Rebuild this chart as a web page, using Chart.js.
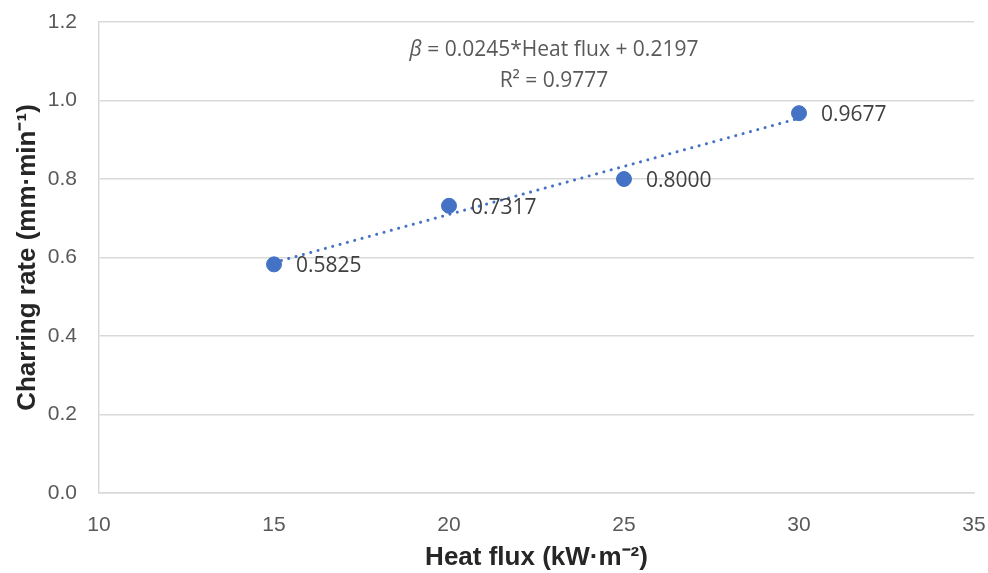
<!DOCTYPE html>
<html>
<head>
<meta charset="utf-8">
<script src="https://cdn.jsdelivr.net/npm/chart.js@4"></script>
<style>
  html, body { margin: 0; padding: 0; background: #fff; }
  #wrap { width: 988px; height: 573px; }
</style>
</head>
<body>
<div id="wrap"><canvas id="chart"></canvas></div>
<script>
// measured charring rates
const heatFlux = [15, 20, 25, 30];
const charRate = [0.5825, 0.7317, 0.8000, 0.9677];

// linear fit reported on the chart
const slope = 0.0245;
const intercept = 0.2197;
const rSquared = 0.9777;

const xTicks = [10, 15, 20, 25, 30, 35];
const yTicks = [0, 0.2, 0.4, 0.6, 0.8, 1.0, 1.2];

const blue = '#4472C4';
const grey = '#595959';
const grid = '#d9d9d9';

let points = heatFlux.map((x, i) => ({ x: x, y: charRate[i] }));
let fitX = [heatFlux[0], heatFlux[heatFlux.length - 1]];
let fit = fitX.map(x => ({ x: x, y: slope * x + intercept }));

// value labels to the right of each point + the fit equation
const annotate = {
  id: 'annotate',
  afterDatasetsDraw(chart) {
    const ctx = chart.ctx;
    const meta = chart.getDatasetMeta(1);
    ctx.save();
    ctx.font = '21px "Open Sans"';
    ctx.fillStyle = '#404040';
    ctx.textAlign = 'left';
    ctx.textBaseline = 'middle';
    meta.data.forEach((pt, i) => {
      ctx.fillText(charRate[i].toFixed(4), pt.x + 22, pt.y + 2);
    });

    // equation over the plot
    const cx = 554;
    ctx.fillStyle = grey;
    const rest = ' = ' + slope + '*Heat flux + ' + intercept;
    ctx.font = 'italic 21px "Open Sans"';
    const wb = ctx.measureText('β').width;
    ctx.font = '21px "Open Sans"';
    const wr = ctx.measureText(rest).width;
    let sx = cx - (wb + wr) / 2;
    ctx.font = 'italic 21px "Open Sans"';
    ctx.fillText('β', sx, 50);
    ctx.font = '21px "Open Sans"';
    ctx.fillText(rest, sx + wb, 50);
    ctx.textAlign = 'center';
    ctx.fillText('R² = ' + rSquared, cx, 81);
    ctx.restore();
  }
};

new Chart(document.getElementById('chart'), {
  type: 'scatter',
  data: {
    datasets: [
      {
        label: 'fit',
        data: fit,
        showLine: true,
        borderColor: blue,
        borderWidth: 3,
        borderDash: [0.1, 7.5],
        borderCapStyle: 'round',
        pointRadius: 0,
        fill: false
      },
      {
        label: 'Charring rate',
        data: points,
        backgroundColor: blue,
        borderColor: blue,
        pointRadius: 7.5,
        pointHoverRadius: 7.5
      }
    ]
  },
  options: {
    responsive: true,
    maintainAspectRatio: false,
    animation: false,
    layout: { padding: { top: 22, right: 14, left: 8, bottom: 0 } },
    plugins: {
      legend: { display: false },
      tooltip: { enabled: false }
    },
    scales: {
      x: {
        type: 'linear',
        min: xTicks[0],
        max: xTicks[xTicks.length - 1],
        afterBuildTicks: s => { s.ticks = xTicks.map(v => ({ value: v })); },
        afterFit: s => { s.height = 80; s.paddingLeft = 0; s.paddingRight = 0; },
        grid: { display: false, drawTicks: false },
        border: { color: grid, width: 1.5 },
        ticks: {
          color: grey,
          padding: 20,
          font: { family: '"Liberation Sans"', size: 21 }
        },
        title: {
          display: true,
          text: 'Heat flux (kW·m⁻²)',
          color: '#262626',
          padding: { top: 0, bottom: 0 },
          font: { family: '"Liberation Sans"', size: 26, weight: 'bold' }
        }
      },
      y: {
        min: yTicks[0],
        max: yTicks[yTicks.length - 1],
        afterBuildTicks: s => { s.ticks = yTicks.map(v => ({ value: v })); },
        afterFit: s => { s.width = 91; s.paddingTop = 0; s.paddingBottom = 0; },
        grid: { color: grid, lineWidth: 1.5, drawTicks: false },
        border: { color: grid, width: 1.5 },
        ticks: {
          color: grey,
          padding: 22,
          font: { family: '"Liberation Sans"', size: 21 },
          callback: v => v.toFixed(1)
        },
        title: {
          display: true,
          text: 'Charring rate (mm·min⁻¹)',
          color: '#262626',
          padding: { bottom: 0 },
          font: { family: '"Liberation Sans"', size: 26, weight: 'bold' }
        }
      }
    }
  },
  plugins: [annotate]
});
</script>
</body>
</html>
